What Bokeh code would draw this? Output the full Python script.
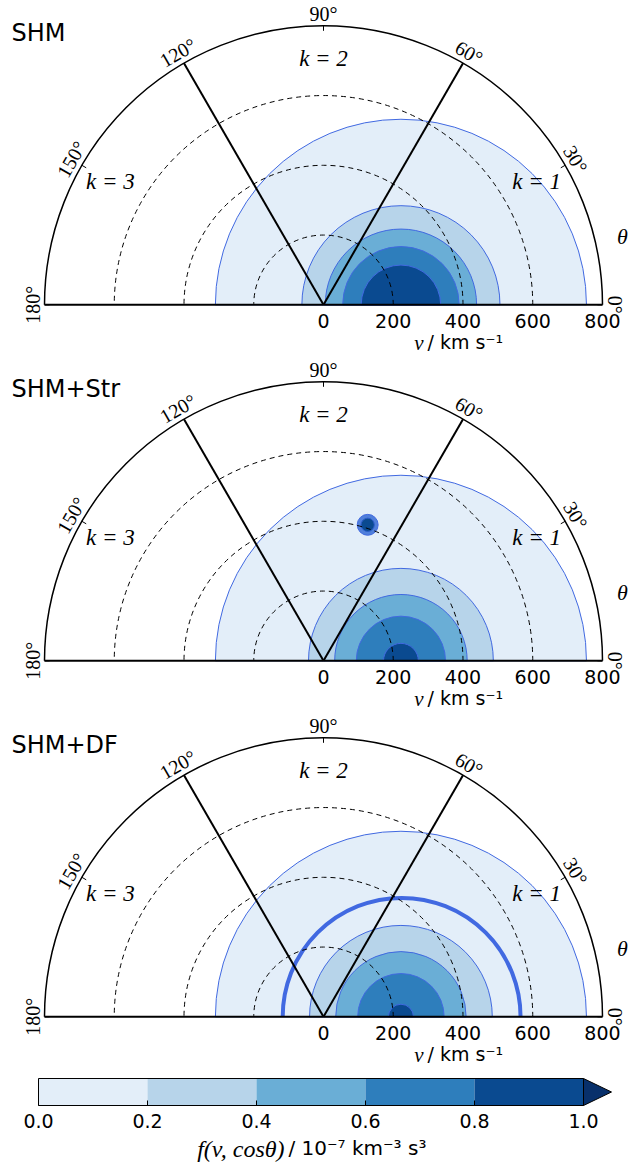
import numpy as np
from bokeh.plotting import figure
from bokeh.layouts import column
from bokeh.models import Range1d
from bokeh.core.properties import value
from bokeh.embed import file_html
from bokeh.resources import INLINE

# ---------------- data ----------------
panel_names = ["SHM", "SHM+Str", "SHM+DF"]
levels = [0.0, 0.2, 0.4, 0.6, 0.8, 1.0]
level_labels = ["0.0", "0.2", "0.4", "0.6", "0.8", "1.0"]
# centre of the (circular) contours along theta = 0, km/s
contour_centre = [222, 222, 222]
# contour radii (km/s) for levels 0.0, 0.2, 0.4, 0.6, 0.8
contour_radii = [
    [532, 284, 217, 167, 114],
    [532, 265, 190, 128, 50],
    [532, 262, 187, 124, 36],
]
# stream (SHM+Str): speed, angle (deg), blob radii for outer / inner level
stream_v = 410
stream_theta = 72
stream_radii = [30, 19]
# debris flow (SHM+DF): shell centre and radius (km/s)
debris_centre = 224
debris_radius = 341

v_max = 800
r_ticks = [0, 200, 400, 600, 800]
dashed_r = [200, 400, 600]
theta_ticks = [0, 30, 60, 90, 120, 150, 180]
spoke_angles = [60, 120]
k_names = ["k = 1", "k = 2", "k = 3"]
k_angles = [30, 90, 150]

# ---------------- style ----------------
fill_colors = ["#e3eef9", "#b7d4ea", "#6aaed6", "#2e7ebc", "#0a4a90"]
over_color = "#08306b"
ROYAL = "#4169e1"
SERIF = value("Liberation Serif")
SANS = value("DejaVu Sans")

FIG_W = 631
PANEL_H = 356
S = 279.0 / 800.0          # px per km/s
ORIGIN_X = 323.0           # px from left of figure
BASE_Y = 304.3             # px from top of figure


def px(d):
    return d / S


def make_panel(i):
    name = panel_names[i]
    p = figure(width=FIG_W, height=PANEL_H,
               x_range=Range1d(-px(ORIGIN_X), px(FIG_W - ORIGIN_X)),
               y_range=Range1d(-px(PANEL_H - BASE_Y), px(BASE_Y)),
               x_axis_type=None, y_axis_type=None,
               output_backend="svg", toolbar_location=None,
               min_border=0, outline_line_color=None)
    p.grid.visible = False

    # filled contours (upper half discs)
    radii = contour_radii[i]
    n = len(radii)
    p.wedge(x=[contour_centre[i]] * n, y=[0] * n, radius=radii,
            start_angle=0, end_angle=np.pi,
            fill_color=fill_colors[:n], line_color=ROYAL, line_width=1)

    if name == "SHM+Str":
        sx = stream_v * np.cos(np.radians(stream_theta))
        sy = stream_v * np.sin(np.radians(stream_theta))
        p.circle(x=[sx, sx], y=[sy, sy], radius=stream_radii,
                 fill_color=["#4f7fda", fill_colors[4]],
                 line_color=[ROYAL, "#2a5bc8"], line_width=1)
    if name == "SHM+DF":
        p.arc(x=debris_centre, y=0, radius=debris_radius,
              start_angle=0, end_angle=np.pi,
              line_color=ROYAL, line_width=4)

    # dashed speed circles
    m = len(dashed_r)
    p.arc(x=[0] * m, y=[0] * m, radius=dashed_r, start_angle=0,
          end_angle=np.pi, line_color="black", line_width=1,
          line_dash="5 4")

    # spokes
    ang = np.radians(spoke_angles)
    p.segment(x0=[0] * len(ang), y0=[0] * len(ang),
              x1=v_max * np.cos(ang), y1=v_max * np.sin(ang),
              line_color="black", line_width=2)

    # outer arc and base line
    p.arc(x=0, y=0, radius=v_max, start_angle=0, end_angle=np.pi,
          line_color="black", line_width=1.5)
    p.segment(x0=-v_max, y0=0, x1=v_max, y1=0,
              line_color="black", line_width=2)

    # theta ticks (inward)
    th = np.radians(theta_ticks)
    p.segment(x0=v_max * np.cos(th), y0=v_max * np.sin(th),
              x1=(v_max - px(5)) * np.cos(th), y1=(v_max - px(5)) * np.sin(th),
              line_color="black", line_width=1)

    # theta labels
    rl = px(291)
    p.text(x=rl * np.cos(th), y=rl * np.sin(th),
           text=[f"{t}\u00b0" for t in theta_ticks], angle=th - np.pi / 2,
           text_align="center", text_baseline="middle",
           text_font=SERIF, text_font_size="20px", text_color="black")

    # radial tick labels
    p.text(x=r_ticks, y=[-px(15.7)] * len(r_ticks),
           text=[str(r) for r in r_ticks],
           text_align="center", text_baseline="middle",
           text_font=SANS, text_font_size="19px", text_color="black")

    # axis label  v / km s^-1
    p.text(x=[px(423 - 323)], y=[-px(38.5)], text=["v"],
           text_align="right", text_baseline="middle",
           text_font=SERIF, text_font_style="italic",
           text_font_size="21px", text_color="black")
    p.text(x=[px(427 - 323)], y=[-px(37)], text=["/ km s\u207b\u00b9"],
           text_align="left", text_baseline="middle",
           text_font=SANS, text_font_size="19px", text_color="black")

    # theta axis label
    p.text(x=[px(622 - 323)], y=[px(68)], text=["\u03b8"],
           text_align="center", text_baseline="middle",
           text_font=SERIF, text_font_style="italic",
           text_font_size="22px", text_color="black")

    # k labels
    ka = np.radians(k_angles)
    kr = px(246)
    p.text(x=kr * np.cos(ka), y=kr * np.sin(ka), text=k_names,
           text_align="center", text_baseline="middle",
           text_font=SERIF, text_font_style="italic",
           text_font_size="23px", text_color="black")

    # panel title
    p.text(x=[px(11 - 323)], y=[px(271.8)], text=[name],
           text_align="left", text_baseline="middle",
           text_font=SANS, text_font_size="24px", text_color="black")
    return p


panels = [make_panel(i) for i in range(3)]

# ---------------- colour bar ----------------
CB_TOP = 3 * PANEL_H       # page y where the colour-bar figure starts
CB_H = 1171 - CB_TOP
CB_LEFT = 38.0      # px of level 0 from figure left
CB_W = 545.0        # px for one unit of f
cb = figure(width=FIG_W, height=CB_H,
            x_range=Range1d(-CB_LEFT / CB_W, (FIG_W - CB_LEFT) / CB_W),
            y_range=Range1d(CB_H, 0),
            x_axis_type=None, y_axis_type=None,
            output_backend="svg", toolbar_location=None,
            min_border=0, outline_line_color=None)
cb.grid.visible = False
top, bot = 1078 - CB_TOP, 1105 - CB_TOP
cb.quad(left=levels[:-1], right=levels[1:], top=[top] * 5, bottom=[bot] * 5,
        fill_color=fill_colors, line_color=None)
tip = levels[-1] + 28 / CB_W
cb.patch(x=[levels[-1], tip, levels[-1]], y=[top, (top + bot) / 2, bot],
         fill_color=over_color, line_color="black", line_width=1)
cb.line(x=[levels[-1], levels[0], levels[0], levels[-1]],
        y=[top, top, bot, bot], line_color="black", line_width=1)
cb.segment(x0=levels, y0=[bot] * 6, x1=levels, y1=[bot - 5] * 6,
           line_color="black", line_width=1)
cb.text(x=levels, y=[1120.5 - CB_TOP] * 6, text=level_labels,
        text_align="center", text_baseline="middle",
        text_font=SANS, text_font_size="19px", text_color="black")
cb.text(x=[(284 - 38) / CB_W], y=[1148 - CB_TOP], text=["f(v, cos\u03b8)"],
        text_align="right", text_baseline="middle",
        text_font=SERIF, text_font_style="italic",
        text_font_size="24px", text_color="black")
cb.text(x=[(288 - 38) / CB_W], y=[1147 - CB_TOP],
        text=["/ 10\u207b\u2077 km\u207b\u00b3 s\u00b3"],
        text_align="left", text_baseline="middle",
        text_font=SANS, text_font_size="20px", text_color="black")

layout = column(*panels, cb, spacing=0)
open("out.html", "w").write(file_html(layout, INLINE))
